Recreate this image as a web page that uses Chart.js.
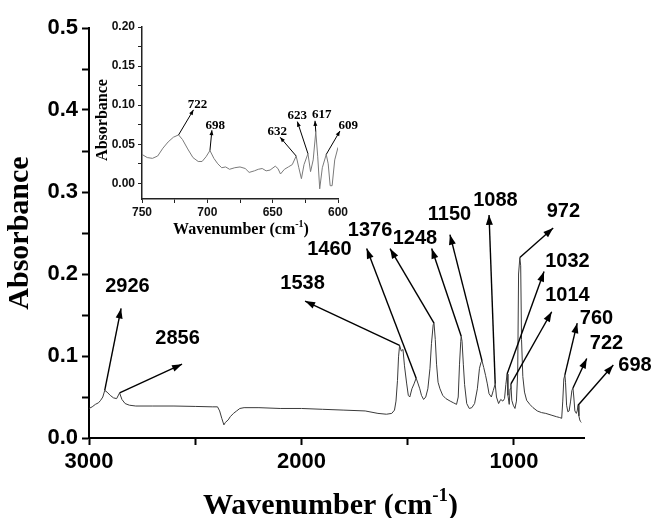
<!DOCTYPE html>
<html>
<head>
<meta charset="utf-8">
<script src="https://cdn.jsdelivr.net/npm/chart.js@4.4.1/dist/chart.umd.min.js"></script>
<style>
  html, body { margin: 0; padding: 0; background: #fff; }
  #wrap { position: relative; width: 653px; height: 518px; overflow: hidden; }
  #main { position: absolute; left: 0; top: 0; }
  #inset { position: absolute; left: 80px; top: 10px; }
</style>
</head>
<body>
<div id="wrap">
  <canvas id="main" width="653" height="518"></canvas>
  <canvas id="inset" width="280" height="230"></canvas>
</div>
<script>
// ---- FTIR spectrum, full range (cm-1 / absorbance) ----
const mainWavenumber = [
  3000, 2985, 2970, 2955, 2945, 2935, 2926, 2915, 2900, 2885, 2870, 2856, 2845, 2830, 2810, 2780,
  2700, 2600, 2500, 2420, 2395, 2385, 2375, 2365, 2358, 2345, 2335, 2320, 2305, 2290, 2270, 2200,
  2100, 2000, 1900, 1800, 1700, 1640, 1600, 1575, 1562, 1555, 1548, 1543, 1538, 1530, 1522, 1515,
  1505, 1497, 1490, 1480, 1470, 1460, 1452, 1443, 1435, 1425, 1415, 1405, 1395, 1388, 1380, 1376,
  1370, 1364, 1357, 1348, 1335, 1320, 1300, 1285, 1270, 1262, 1256, 1250, 1248, 1244, 1238, 1232,
  1222, 1210, 1198, 1185, 1172, 1162, 1155, 1150, 1142, 1133, 1125, 1117, 1106, 1097, 1088, 1082,
  1072, 1062, 1052, 1044, 1038, 1032, 1028, 1022, 1018, 1014, 1010, 1003, 995, 988, 982, 978,
  972, 968, 964, 958, 950, 940, 925, 910, 890, 870, 850, 825, 800, 785, 775, 770,
  765, 760, 757, 752, 746, 740, 733, 727, 722, 718, 713, 706, 702, 698, 694, 690,
  686, 683
];
const mainAbsorbance = [
  0.036, 0.038, 0.041, 0.043, 0.046, 0.050, 0.058, 0.056, 0.052, 0.049, 0.048, 0.055, 0.047, 0.042, 0.040, 0.039,
  0.039, 0.039, 0.0385, 0.038, 0.038, 0.033, 0.024, 0.016, 0.019, 0.022, 0.026, 0.030, 0.033, 0.036, 0.037, 0.037,
  0.036, 0.036, 0.035, 0.034, 0.033, 0.030, 0.029, 0.030, 0.034, 0.045, 0.070, 0.099, 0.113, 0.106, 0.108, 0.088,
  0.067, 0.052, 0.050, 0.060, 0.066, 0.073, 0.067, 0.060, 0.052, 0.047, 0.050, 0.060, 0.085, 0.115, 0.138, 0.140,
  0.120, 0.090, 0.068, 0.060, 0.052, 0.048, 0.045, 0.043, 0.041, 0.050, 0.090, 0.118, 0.124, 0.118, 0.090, 0.065,
  0.042, 0.036, 0.037, 0.042, 0.060, 0.085, 0.092, 0.094, 0.086, 0.076, 0.066, 0.054, 0.050, 0.058, 0.066, 0.050,
  0.042, 0.047, 0.045, 0.048, 0.065, 0.078, 0.052, 0.041, 0.060, 0.066, 0.046, 0.040, 0.036, 0.045, 0.080, 0.200,
  0.220, 0.210, 0.120, 0.075, 0.056, 0.046, 0.041, 0.037, 0.033, 0.031, 0.030, 0.028, 0.026, 0.025, 0.024, 0.045,
  0.072, 0.077, 0.068, 0.040, 0.032, 0.033, 0.045, 0.058, 0.061, 0.050, 0.033, 0.030, 0.033, 0.040, 0.027, 0.022,
  0.020, 0.019
];

// Tick values of the main axes
const mainXTicks = [3000, 2500, 2000, 1500, 1000];
const mainYTicks = [0, 0.05, 0.1, 0.15, 0.2, 0.25, 0.3, 0.35, 0.4, 0.45, 0.5];

// Band assignments: peak position, arrow head (cm-1, abs) and label centre (cm-1, abs)
const mainPeaks  = [2926, 2856, 1538, 1460, 1376, 1248, 1150, 1088, 972, 1032, 1014, 760, 722, 698];
const mainHeadX  = [2849, 2562, 1983, 1693, 1583, 1387, 1301, 1117, 815, 858, 822, 702, 657, 532];
const mainHeadY  = [0.158, 0.090, 0.167, 0.231, 0.231, 0.231, 0.248, 0.272, 0.256, 0.203, 0.154, 0.140, 0.097, 0.089];
const mainLabelX = [2819, 2583, 1995, 1868, 1677, 1466, 1303, 1087, 767, 748, 748, 611, 564, 430];
const mainLabelY = [0.185, 0.121, 0.188, 0.230, 0.253, 0.243, 0.272, 0.290, 0.276, 0.215, 0.174, 0.146, 0.115, 0.089];

// ---- Expanded 750-600 cm-1 region ----
const insetWavenumber = [
  750, 746, 742, 738, 734, 730, 726, 722, 719, 715, 711, 707, 704, 701, 698, 695,
  692, 689, 686, 683, 679, 675, 671, 668, 664, 661, 658, 655, 652, 648, 646, 644,
  641, 638, 635, 632, 630, 628, 626, 623, 621, 619, 617, 615.5, 614, 612, 609, 607.5,
  606, 604.5, 602.5, 600
];
const insetAbsorbance = [
  0.037, 0.033, 0.032, 0.035, 0.045, 0.053, 0.059, 0.062, 0.056, 0.044, 0.033, 0.028, 0.028, 0.034, 0.042, 0.032,
  0.025, 0.020, 0.021, 0.018, 0.020, 0.021, 0.019, 0.014, 0.016, 0.018, 0.019, 0.016, 0.017, 0.022, 0.019, 0.012,
  0.018, 0.021, 0.024, 0.035, 0.020, 0.006, 0.024, 0.038, 0.015, 0.030, 0.066, 0.034, -0.007, 0.020, 0.037, 0.025,
  -0.003, -0.003, 0.030, 0.046
];
const insetXTicks = [750, 725, 700, 675, 650, 625, 600];
const insetYTicks = [0, 0.025, 0.05, 0.075, 0.1, 0.125, 0.15, 0.175, 0.2];

const insetPeaks  = [722, 698, 632, 623, 617, 609];
const insetHeadX  = [710.6, 696.5, 644.3, 631.1, 617.6, 598.5];
const insetHeadY  = [0.094, 0.068, 0.059, 0.079, 0.080, 0.067];
const insetLabelX = [707.5, 694, 646.4, 631.1, 612.5, 592.1];
const insetLabelY = [0.101, 0.0735, 0.066, 0.0863, 0.0885, 0.0744];

function toPoints(xs, ys) { return xs.map((x, i) => ({ x: x, y: ys[i] })); }

function drawArrow(ctx, x1, y1, x2, y2, len, half) {
  ctx.beginPath();
  ctx.moveTo(x1, y1);
  ctx.lineTo(x2, y2);
  ctx.stroke();
  const a = Math.atan2(y2 - y1, x2 - x1);
  const bx = x2 - len * Math.cos(a), by = y2 - len * Math.sin(a);
  ctx.beginPath();
  ctx.moveTo(x2, y2);
  ctx.lineTo(bx + half * Math.sin(a), by - half * Math.cos(a));
  ctx.lineTo(bx - half * Math.sin(a), by + half * Math.cos(a));
  ctx.closePath();
  ctx.fill();
}

// Title with a "-1" superscript after "cm"
function drawWavenumberTitle(ctx, cx, cy, size, family) {
  const big = 'bold ' + size + 'px ' + family;
  const small = 'bold ' + Math.round(size * 0.62) + 'px ' + family;
  const a = 'Wavenumber (cm', s = '-1', b = ')';
  ctx.font = big; const wa = ctx.measureText(a).width, wb = ctx.measureText(b).width;
  ctx.font = small; const ws = ctx.measureText(s).width;
  let x = cx - (wa + ws + wb) / 2;
  ctx.textBaseline = 'alphabetic'; ctx.textAlign = 'left';
  const base = cy + size * 0.35;
  ctx.font = big; ctx.fillText(a, x, base); x += wa;
  ctx.font = small; ctx.fillText(s, x, base - size * 0.42); x += ws;
  ctx.font = big; ctx.fillText(b, x, base);
}

function annotate(opts) {
  return {
    id: 'annotations',
    afterDatasetsDraw(chart) {
      const ctx = chart.ctx, xs = chart.scales.x, ys = chart.scales.y;
      ctx.save();
      ctx.strokeStyle = '#000'; ctx.fillStyle = '#000';
      ctx.lineWidth = opts.lineWidth;
      opts.peaks.forEach((p, i) => {
        const k = opts.wn.indexOf(p);
        const x1 = xs.getPixelForValue(p), y1 = ys.getPixelForValue(opts.abs[k]);
        const x2 = xs.getPixelForValue(opts.headX[i]), y2 = ys.getPixelForValue(opts.headY[i]);
        drawArrow(ctx, x1, y1, x2, y2, opts.headLen, opts.headHalf);
      });
      ctx.font = opts.font; ctx.textAlign = 'center'; ctx.textBaseline = 'middle';
      opts.peaks.forEach((p, i) => {
        ctx.fillText(String(p), xs.getPixelForValue(opts.labelX[i]), ys.getPixelForValue(opts.labelY[i]));
      });
      ctx.restore();
    },
    afterDraw(chart) {
      const ctx = chart.ctx, ca = chart.chartArea;
      ctx.save();
      ctx.fillStyle = '#000';
      ctx.translate(opts.yTitleX, (ca.top + ca.bottom) / 2 + opts.yTitleShift);
      ctx.rotate(-Math.PI / 2);
      ctx.font = 'bold ' + opts.titleSize + 'px "Liberation Serif"';
      ctx.textAlign = 'center'; ctx.textBaseline = 'middle';
      ctx.fillText('Absorbance', 0, 0);
      ctx.restore();
      ctx.save();
      ctx.fillStyle = '#000';
      drawWavenumberTitle(ctx, (ca.left + ca.right) / 2 + opts.xTitleShift, opts.xTitleY, opts.titleSize, '"Liberation Serif"');
      ctx.restore();
    }
  };
}

Chart.defaults.animation = false;

// ---- main spectrum ----
new Chart(document.getElementById('main'), {
  type: 'line',
  data: {
    datasets: [{
      data: toPoints(mainWavenumber, mainAbsorbance),
      borderColor: '#3a3a3a', borderWidth: 1, pointRadius: 0, tension: 0, fill: false
    }]
  },
  options: {
    responsive: false, animation: false,
    layout: { padding: { left: 0, top: 28, right: 69, bottom: 0 } },
    plugins: { legend: { display: false }, tooltip: { enabled: false } },
    scales: {
      x: {
        type: 'linear', reverse: true, min: 670, max: 3000,
        afterBuildTicks: s => { s.ticks = mainXTicks.map(v => ({ value: v })); },
        afterFit: s => { s.height = 80; },
        border: { display: true, color: '#000', width: 2 },
        grid: { drawOnChartArea: false, drawTicks: true, tickLength: 7, tickColor: '#000', tickWidth: 2 },
        ticks: {
          autoSkip: false, maxRotation: 0, color: '#000', padding: 4,
          font: { family: 'Liberation Sans', size: 22, weight: 'bold' },
          callback: v => (v % 1000 === 0 ? String(v) : '')
        }
      },
      y: {
        type: 'linear', min: 0, max: 0.5,
        afterBuildTicks: s => { s.ticks = mainYTicks.map(v => ({ value: v })); },
        afterFit: s => { s.width = 89; },
        border: { display: true, color: '#000', width: 2 },
        grid: { drawOnChartArea: false, drawTicks: true, tickLength: 7, tickColor: '#000', tickWidth: 2 },
        ticks: {
          autoSkip: false, color: '#000', padding: 4,
          font: { family: 'Liberation Sans', size: 22, weight: 'bold' },
          callback: v => (Math.round(v * 100) % 10 === 0 ? v.toFixed(1) : '')
        }
      }
    }
  },
  plugins: [annotate({
    peaks: mainPeaks, wn: mainWavenumber, abs: mainAbsorbance,
    headX: mainHeadX, headY: mainHeadY, labelX: mainLabelX, labelY: mainLabelY,
    font: 'bold 20px "Liberation Sans"', lineWidth: 1.4, headLen: 10, headHalf: 3.5,
    titleSize: 30, yTitleX: 20, yTitleShift: 0, xTitleY: 503, xTitleShift: -6
  })]
});

// ---- expanded 750-600 cm-1 view ----
new Chart(document.getElementById('inset'), {
  type: 'line',
  data: {
    datasets: [{
      data: toPoints(insetWavenumber, insetAbsorbance),
      borderColor: '#7a7a7a', borderWidth: 1, pointRadius: 0, tension: 0, fill: false
    }]
  },
  options: {
    responsive: false, animation: false,
    layout: { padding: { left: 0, top: 17, right: 22, bottom: 0 } },
    plugins: { legend: { display: false }, tooltip: { enabled: false } },
    scales: {
      x: {
        type: 'linear', reverse: true, min: 600, max: 750,
        afterBuildTicks: s => { s.ticks = insetXTicks.map(v => ({ value: v })); },
        afterFit: s => { s.height = 41; },
        border: { display: true, color: '#222', width: 1.5 },
        grid: { drawOnChartArea: false, drawTicks: true, tickLength: 4, tickColor: '#222', tickWidth: 1 },
        ticks: {
          autoSkip: false, maxRotation: 0, color: '#111', padding: 2,
          font: { family: 'Liberation Sans', size: 12, weight: 'bold' },
          callback: v => (v % 50 === 0 ? String(v) : '')
        }
      },
      y: {
        type: 'linear', min: -0.02, max: 0.2,
        afterBuildTicks: s => { s.ticks = insetYTicks.map(v => ({ value: v })); },
        afterFit: s => { s.width = 62; },
        border: { display: true, color: '#222', width: 1.5 },
        grid: { drawOnChartArea: false, drawTicks: true, tickLength: 4, tickColor: '#222', tickWidth: 1 },
        ticks: {
          autoSkip: false, color: '#111', padding: 3,
          font: { family: 'Liberation Sans', size: 12, weight: 'bold' },
          callback: v => (Math.round(v * 1000) % 50 === 0 ? v.toFixed(2) : '')
        }
      }
    }
  },
  plugins: [annotate({
    peaks: insetPeaks, wn: insetWavenumber, abs: insetAbsorbance,
    headX: insetHeadX, headY: insetHeadY, labelX: insetLabelX, labelY: insetLabelY,
    font: 'bold 13px "Liberation Serif"', lineWidth: 1, headLen: 5, headHalf: 2,
    titleSize: 16, yTitleX: 23, yTitleShift: 7, xTitleY: 218, xTitleShift: 1
  })]
});
</script>
</body>
</html>
